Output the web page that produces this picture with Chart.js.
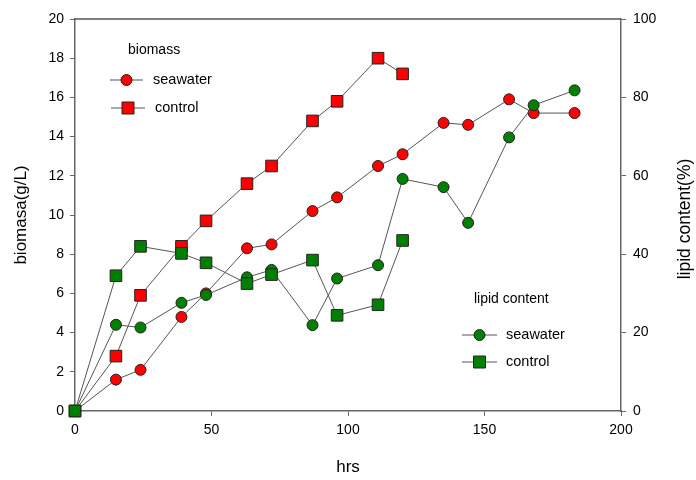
<!DOCTYPE html>
<html>
<head>
<meta charset="utf-8">
<script src="https://cdn.jsdelivr.net/npm/chart.js@4"></script>
<style>
  html, body { margin: 0; padding: 0; background: #fff; }
  #wrap { width: 696px; height: 480px; }
</style>
</head>
<body>
<div id="wrap"><canvas id="chart"></canvas></div>
<script>
const hrsLong = [0, 15, 24, 39, 48, 63, 72, 87, 96, 111, 120, 135, 144, 159, 168, 183];
const hrsShort = [0, 15, 24, 39, 48, 63, 72, 87, 96, 111, 120];

const biomassSeawater = [0, 1.6, 2.1, 4.8, 6.0, 8.3, 8.5, 10.2, 10.9, 12.5, 13.1, 14.7, 14.6, 15.9, 15.2, 15.2];
const biomassControl = [0, 2.8, 5.9, 8.4, 9.7, 11.6, 12.5, 14.8, 15.8, 18.0, 17.2];
const lipidSeawater = [0, 22, 21.3, 27.6, 29.6, 34.1, 36.0, 21.9, 33.8, 37.2, 59.2, 57.1, 48.0, 69.8, 78.0, 81.8];
const lipidControl = [0, 34.5, 42.0, 40.2, 37.8, 32.5, 34.8, 38.5, 24.4, 27.1, 43.5];

const RED = '#ff0000';
const GREEN = '#008000';
const FONT = 'Arial, "Liberation Sans", sans-serif';

function pts(xs, ys) {
    return xs.map((x, i) => ({ x: x, y: ys[i] }));
}

function makeSet(label, xs, ys, color, shape, axis, order) {
    // chart.js rect side = radius * sqrt(2)
    const r = shape === 'rect' ? 8.2 : 5.5;
    return {
        label: label,
        data: pts(xs, ys),
        yAxisID: axis,
        borderColor: '#555',
        borderWidth: 1,
        backgroundColor: color,
        pointBackgroundColor: color,
        pointBorderColor: '#222',
        pointBorderWidth: 1,
        pointStyle: shape,
        pointRadius: r,
        pointHoverRadius: r,
        tension: 0,
        clip: false,
        order: order
    };
}

// axis titles, frame top line and the two legend boxes
const decorations = {
    id: 'decorations',
    afterDraw(chart) {
        const c = chart.ctx;
        const a = chart.chartArea;
        c.save();
        c.strokeStyle = '#555';
        c.lineWidth = 1.5;
        c.beginPath();
        c.moveTo(a.left, a.top);
        c.lineTo(a.right, a.top);
        c.stroke();

        c.fillStyle = '#000';
        c.textBaseline = 'middle';
        c.textAlign = 'center';
        c.font = '17px ' + FONT;
        c.fillText('hrs', (a.left + a.right) / 2, 467);

        c.save();
        c.translate(21, 215);
        c.rotate(-Math.PI / 2);
        c.fillText('biomasa(g/L)', 0, 0);
        c.restore();

        c.save();
        c.translate(685, 219);
        c.rotate(-Math.PI / 2);
        c.font = '17.5px ' + FONT;
        c.fillText('lipid content(%)', 0, 0);
        c.restore();

        function entry(x1, x2, y, color, shape, text, tx) {
            c.strokeStyle = '#555';
            c.lineWidth = 1;
            c.beginPath();
            c.moveTo(x1, y);
            c.lineTo(x2, y);
            c.stroke();
            const mx = (x1 + x2) / 2;
            c.fillStyle = color;
            c.strokeStyle = '#222';
            c.beginPath();
            if (shape === 'circle') {
                c.arc(mx, y, 5.5, 0, Math.PI * 2);
            } else {
                c.rect(mx - 6, y - 6, 12, 12);
            }
            c.fill();
            c.stroke();
            c.fillStyle = '#000';
            c.textAlign = 'left';
            c.font = '14.5px ' + FONT;
            c.fillText(text, tx, y);
        }

        c.textAlign = 'left';
        c.font = '14px ' + FONT;
        c.fillText('biomass', 128, 50);
        entry(110, 143, 80, RED, 'circle', 'seawater', 153);
        entry(111, 145, 108, RED, 'rect', 'control', 155);

        c.textAlign = 'left';
        c.font = '14px ' + FONT;
        c.fillText('lipid content', 474, 299);
        entry(462, 497, 335, GREEN, 'circle', 'seawater', 506);
        entry(462, 497, 362, GREEN, 'rect', 'control', 506);
        c.restore();
    }
};

document.addEventListener('DOMContentLoaded', function () {
    const ctx = document.getElementById('chart');
    new Chart(ctx, {
        type: 'line',
        data: {
            datasets: [
                makeSet('biomass seawater', hrsLong, biomassSeawater, RED, 'circle', 'y', 4),
                makeSet('biomass control', hrsShort, biomassControl, RED, 'rect', 'y', 3),
                makeSet('lipid seawater', hrsLong, lipidSeawater, GREEN, 'circle', 'y2', 2),
                makeSet('lipid control', hrsShort, lipidControl, GREEN, 'rect', 'y2', 1)
            ]
        },
        options: {
            responsive: true,
            maintainAspectRatio: false,
            animation: false,
            layout: { padding: { top: 19, left: 0, right: 0, bottom: 0 } },
            plugins: {
                legend: { display: false },
                tooltip: { enabled: false }
            },
            scales: {
                x: {
                    type: 'linear',
                    min: 0,
                    max: 200,
                    ticks: { stepSize: 50, color: '#000', padding: 6, font: { size: 14, family: FONT } },
                    grid: { drawOnChartArea: false, tickLength: 5, color: '#666', tickColor: '#666' },
                    border: { color: '#666', width: 1.5 },
                    afterFit(scale) { scale.height = 69; }
                },
                y: {
                    position: 'left',
                    min: 0,
                    max: 20,
                    ticks: { stepSize: 2, color: '#000', padding: 6, font: { size: 14, family: FONT } },
                    grid: { drawOnChartArea: false, tickLength: 5, color: '#666', tickColor: '#666' },
                    border: { color: '#666', width: 1.5 },
                    afterFit(scale) { scale.width = 75; }
                },
                y2: {
                    position: 'right',
                    min: 0,
                    max: 100,
                    ticks: { stepSize: 20, color: '#000', padding: 7, font: { size: 14, family: FONT } },
                    grid: { drawOnChartArea: false, tickLength: 5, color: '#666', tickColor: '#666' },
                    border: { color: '#666', width: 1.5 },
                    afterFit(scale) { scale.width = 75; }
                }
            }
        },
        plugins: [decorations]
    });
});
</script>
</body>
</html>
